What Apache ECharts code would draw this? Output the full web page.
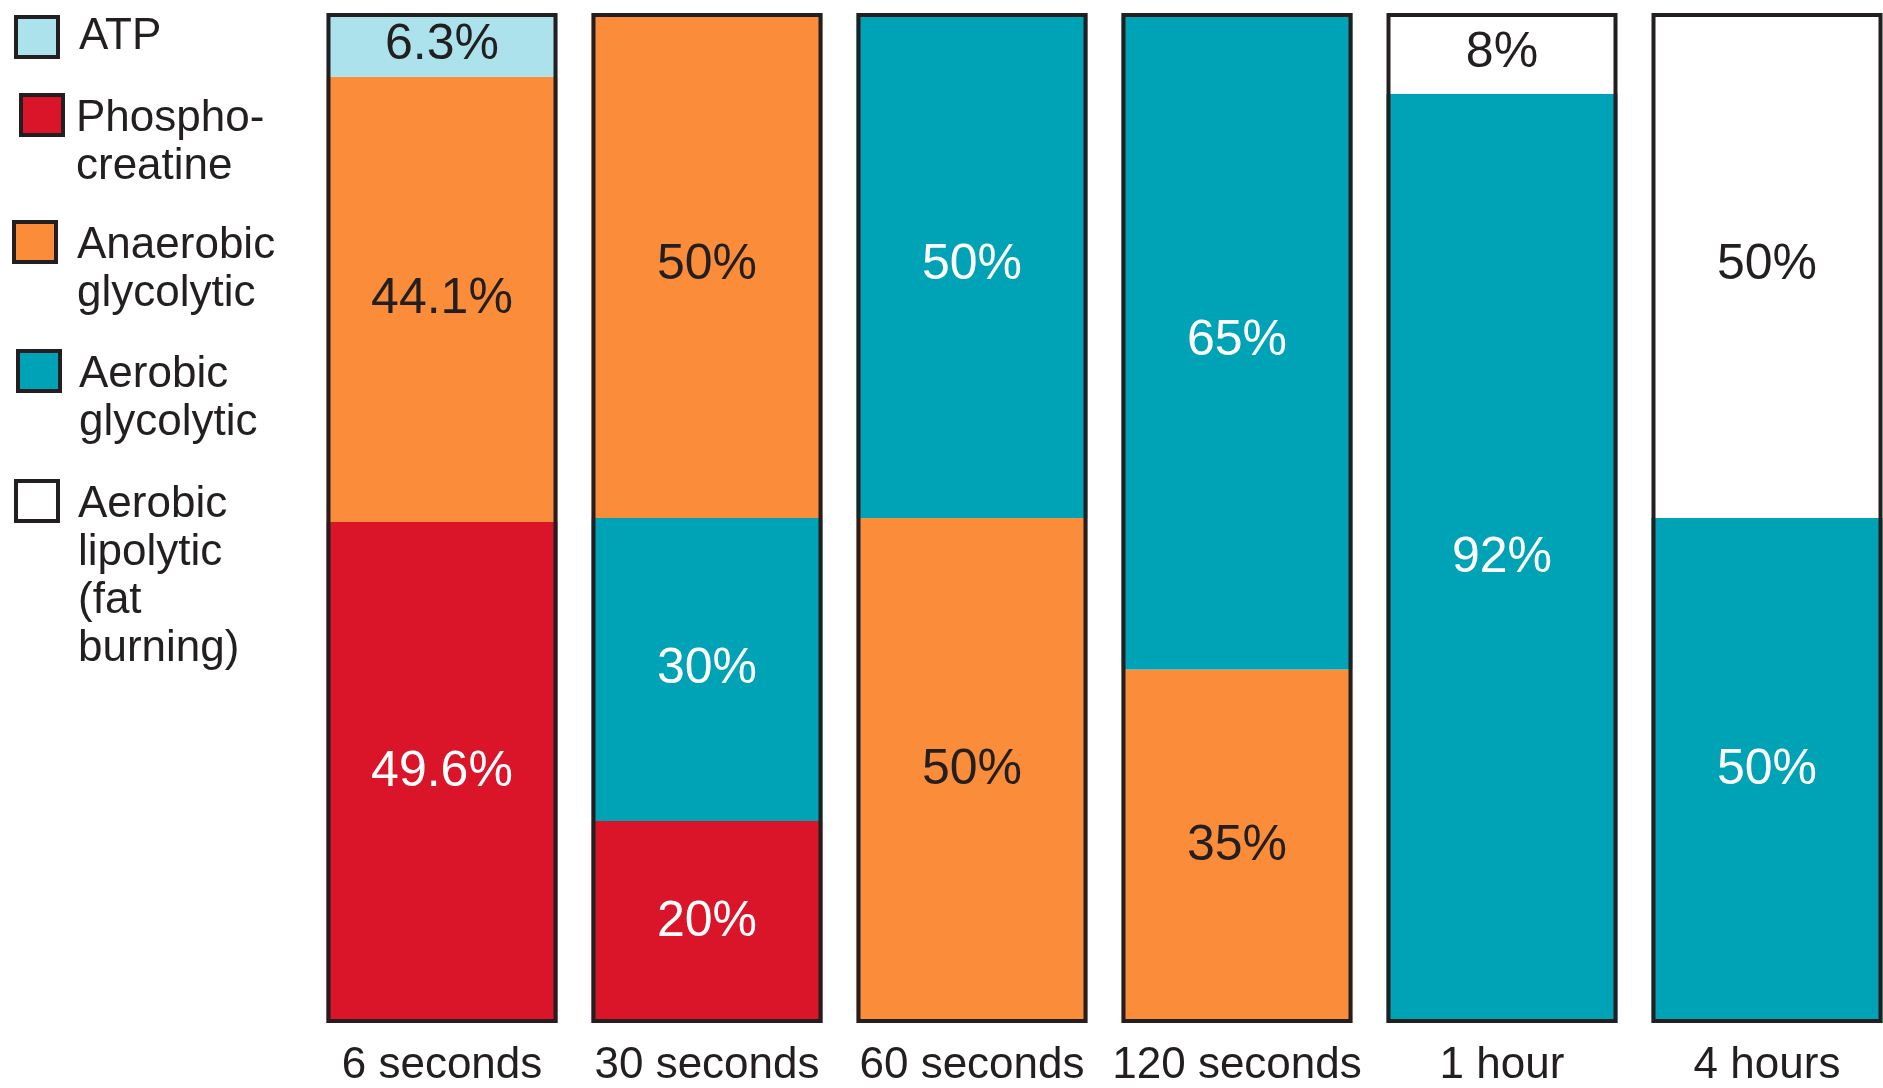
<!DOCTYPE html>
<html>
<head>
<meta charset="utf-8">
<script src="https://cdn.jsdelivr.net/npm/echarts@6/dist/echarts.min.js"></script>
<style>
  html, body { margin: 0; padding: 0; background: #ffffff; }
  #chart { width: 1883px; height: 1088px; }
</style>
</head>
<body>
<div id="chart"></div>
<script>
// ---- data ----
var categories = ['6 seconds', '30 seconds', '60 seconds', '120 seconds', '1 hour', '4 hours'];
var atp = [6.3, 0, 0, 0, 0, 0];
var phosphocreatine = [49.6, 20, 0, 0, 0, 0];
var anaerobicGlycolytic = [44.1, 50, 50, 35, 0, 0];
var aerobicGlycolytic = [0, 30, 50, 65, 92, 50];
var aerobicLipolytic = [0, 0, 0, 0, 8, 50];
// where the anaerobic segment sits below the aerobic one in the stack
var anaerobicBelowAerobic = [false, false, true, true, false, false];
var legendNames = ['ATP', 'Phosphocreatine', 'Anaerobic glycolytic', 'Aerobic glycolytic', 'Aerobic lipolytic (fat burning)'];
var legendLines = {
  'ATP': ['ATP'],
  'Phosphocreatine': ['Phospho-', 'creatine'],
  'Anaerobic glycolytic': ['Anaerobic', 'glycolytic'],
  'Aerobic glycolytic': ['Aerobic', 'glycolytic'],
  'Aerobic lipolytic (fat burning)': ['Aerobic', 'lipolytic', '(fat', 'burning)']
};

var INK = '#231f20';
var FONT = '"Liberation Sans", Arial, Helvetica, sans-serif';
var colors = {
  'ATP': '#abe2ec',
  'Phosphocreatine': '#da1429',
  'Anaerobic glycolytic': '#fb8c3a',
  'Aerobic glycolytic': '#00a2b6',
  'Aerobic lipolytic (fat burning)': '#ffffff'
};
var labelColors = {
  'ATP': INK,
  'Phosphocreatine': '#ffffff',
  'Anaerobic glycolytic': INK,
  'Aerobic glycolytic': '#ffffff',
  'Aerobic lipolytic (fat burning)': INK
};

var BAR_W = 231;
function segment(name, data) {
  return {
    name: name,
    type: 'bar',
    stack: 'total',
    data: data,
    barWidth: BAR_W,
    barGap: '-100%',
    itemStyle: { color: colors[name] },
    label: {
      show: true,
      position: 'inside',
      color: labelColors[name],
      fontSize: 50,
      fontFamily: FONT,
      formatter: function (p) { return p.value ? p.value + '%' : ''; }
    },
    emphasis: { disabled: true },
    z: 2
  };
}

var anaerobicLow = anaerobicGlycolytic.map(function (v, i) { return anaerobicBelowAerobic[i] ? v : 0; });
var anaerobicHigh = anaerobicGlycolytic.map(function (v, i) { return anaerobicBelowAerobic[i] ? 0 : v; });
var totals = categories.map(function (c, i) {
  return atp[i] + phosphocreatine[i] + anaerobicGlycolytic[i] + aerobicGlycolytic[i] + aerobicLipolytic[i];
});

var series = [
  segment('Phosphocreatine', phosphocreatine),
  segment('Anaerobic glycolytic', anaerobicLow),
  segment('Aerobic glycolytic', aerobicGlycolytic),
  segment('Anaerobic glycolytic', anaerobicHigh),
  segment('ATP', atp),
  segment('Aerobic lipolytic (fat burning)', aerobicLipolytic),
  {
    name: 'outline',
    type: 'bar',
    data: totals,
    barWidth: BAR_W,
    barGap: '-100%',
    itemStyle: { color: 'rgba(0,0,0,0)', borderColor: INK, borderWidth: 4 },
    label: { show: false },
    emphasis: { disabled: true },
    silent: true,
    z: 5
  }
];

// one legend block per entry so that the swatch lines up with the first text line
var LINE_H = 48;
var SW_W = 42, SW_H = 40;
var legendLayout = [
  { left: 14, top: 15, pad: 16 },
  { left: 19, top: 93, pad: 8 },
  { left: 12, top: 220, pad: 16 },
  { left: 16, top: 349, pad: 14 },
  { left: 14, top: 479, pad: 15 }
];
var legends = legendNames.map(function (n, i) {
  var lines = legendLines[n].length;
  var lay = legendLayout[i];
  var h = lines > 1 ? lines * LINE_H : SW_H;
  var icon = lines > 1
    ? 'path://M0,0L' + SW_W + ',0L' + SW_W + ',' + SW_H + 'L0,' + SW_H + 'ZM0,' + h
    : 'rect';
  return {
    orient: 'vertical',
    left: lay.left,
    top: lines > 1 ? lay.top : lay.top - 2,
    padding: 0,
    itemWidth: SW_W,
    itemHeight: h,
    icon: icon,
    selectedMode: false,
    data: [n],
    itemStyle: { borderColor: INK, borderWidth: 4 },
    formatter: function (name) { return legendLines[name].join('\n'); },
    textStyle: { fontSize: 44, lineHeight: LINE_H, color: INK, fontFamily: FONT, padding: [0, 0, 0, lay.pad] }
  };
});

var chart = echarts.init(document.getElementById('chart'), null, { renderer: 'canvas' });
chart.setOption({
  backgroundColor: '#ffffff',
  animation: false,
  textStyle: { fontFamily: FONT },
  legend: legends,
  grid: { left: 442, right: 116, top: 13, bottom: 62 },
  xAxis: {
    type: 'category',
    data: categories,
    boundaryGap: false,
    axisLine: { show: false },
    axisTick: { show: false },
    axisLabel: { fontSize: 44, color: INK, margin: 21, fontFamily: FONT, interval: 0 }
  },
  yAxis: {
    type: 'value',
    min: 0,
    max: 100,
    show: false
  },
  series: series
});
</script>
</body>
</html>
